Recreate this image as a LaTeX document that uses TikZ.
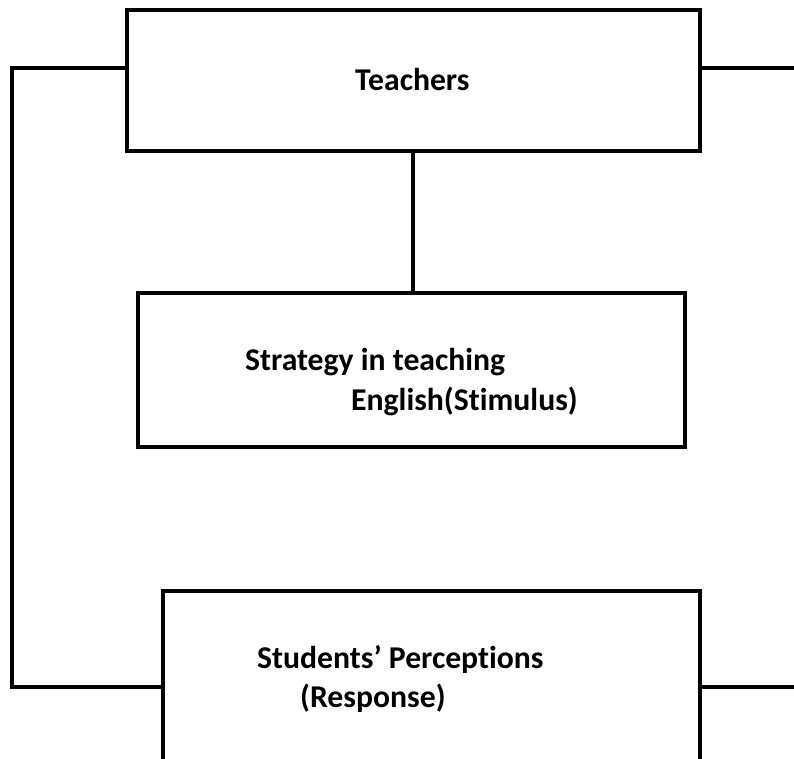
\documentclass[tikz,border=0pt]{standalone}
\usepackage{fontspec}
\setmainfont{Carlito}[Ligatures=NoCommon]
\begin{document}
\begin{tikzpicture}[x=1pt,y=1pt,
  box/.style={draw=black, line width=3.5pt, fill=white, inner sep=0pt, rectangle},
  conn/.style={draw=black, line width=3.5pt},
  lbl/.style={inner sep=0pt, anchor=base west, font=\fontsize{31.7}{40}\selectfont\bfseries}]
\useasboundingbox (0,0) rectangle (794,-758);
\clip (0,0) rectangle (794,-758);
% boxes
\node[box, minimum width=573pt, minimum height=141pt] (T) at (413.5,-80.5) {};
\node[box, minimum width=547pt, minimum height=154pt] (S) at (411.5,-370) {};
\node[box, minimum width=537pt, minimum height=192pt] (P) at (431.5,-687) {};
% texts
\node[lbl] (tT) at (355,-90) {Teachers};
\node[lbl] (tS1) at (245,-370) {Strategy in teaching};
\node[lbl] (tS2) at (351,-410) {English(Stimulus)};
\node[lbl] (tP1) at (257,-668) {Students’ Perceptions};
\node[lbl] (tP2) at (300,-707) {(Response)};
% free ends
\coordinate (cl) at (12,-68);
\coordinate (cr) at (794,-68);
\coordinate (pr) at (794,-687);
% connectors
\draw[conn] ([yshift=12.5pt]T.west) -- (cl) -- (cl |- P.west) -- (P.west);
\draw[conn] ([yshift=12.5pt]T.east) -- (cr);
\draw[conn] ([xshift=-0.5pt]T.south) -- ([xshift=-0.5pt]T.south |- S.north);
\draw[conn] (P.east) -- (pr);
\end{tikzpicture}
\end{document}
